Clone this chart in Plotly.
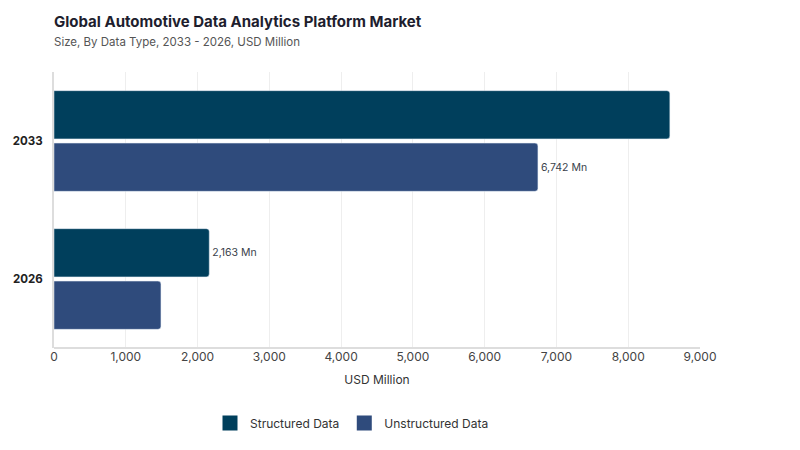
import plotly.graph_objects as go

years = ["2026", "2033"]
structured = [2163, 8580]
unstructured = [1490, 6742]
structured_labels = ["2,163 Mn", ""]
unstructured_labels = ["", "6,742 Mn"]

FONT = "Inter"
C_STRUCT = "#003f5c"
C_UNSTRUCT = "#2f4b7c"
# page body adds an 8px offset, so margins are shifted by that amount
OFF = 8

fig = go.Figure()
fig.add_trace(go.Bar(
    y=years, x=unstructured, name="Unstructured Data", orientation="h",
    marker=dict(color=C_UNSTRUCT), showlegend=False,
    text=unstructured_labels, textposition="outside",
    textfont=dict(size=10.5, color="#3a3f4b", family=FONT),
    cliponaxis=False,
))
fig.add_trace(go.Bar(
    y=years, x=structured, name="Structured Data", orientation="h",
    marker=dict(color=C_STRUCT), showlegend=False,
    text=structured_labels, textposition="outside",
    textfont=dict(size=10.5, color="#3a3f4b", family=FONT),
    cliponaxis=False,
))
# legend entries with bigger square swatches
for name, col in [("Structured Data", C_STRUCT), ("Unstructured Data", C_UNSTRUCT)]:
    fig.add_trace(go.Scatter(
        x=[None], y=[None], mode="markers", name=name,
        marker=dict(symbol="square", size=15, color=col),
    ))

fig.update_layout(
    width=800, height=450,
    margin=dict(l=54 - OFF, r=100 + OFF, t=72 - OFF, b=102 + OFF),
    barmode="group", bargap=0.24, bargroupgap=0.08, barcornerradius=3,
    plot_bgcolor="white", paper_bgcolor="white",
    font=dict(family=FONT, color="#333"),
    title=dict(
        text="<b>Global Automotive Data Analytics Platform Market</b><br>"
             "<span style='font-size:11.5px;color:#555'>Size, By Data Type, 2033 - 2026, USD Million</span>",
        x=(54 - OFF) / 800, xanchor="left", y=0.958, yanchor="top",
        font=dict(size=15, color="#1e1e2e", family=FONT),
    ),
    legend=dict(
        orientation="h", xref="container", x=(352 - OFF) / 800, xanchor="center",
        yref="container", y=1 - (423 - OFF) / 450, yanchor="middle",
        font=dict(size=12, color="#333"), itemwidth=30,
    ),
    xaxis=dict(
        range=[0, 9000], dtick=1000, tickformat=",", automargin=False,
        showgrid=True, gridcolor="#eeeeee", zeroline=False,
        showline=False, ticks="", tickfont=dict(size=12, color="#444"),
        title=dict(text="USD Million", font=dict(size=12, color="#333"), standoff=12),
    ),
    yaxis=dict(
        categoryorder="array", categoryarray=years, range=[-0.5, 1.5],
        automargin=False,
        showline=True, linecolor="#dddddd", linewidth=2, showgrid=False,
        ticks="", ticklabelstandoff=7,
        tickfont=dict(size=11.5, color="#222", family=FONT, weight="bold"),
    ),
)
fig.add_shape(type="line", xref="paper", yref="paper", x0=0, x1=1, y0=0, y1=0,
              line=dict(color="#dddddd", width=2))

fig.write_html("out.html")
